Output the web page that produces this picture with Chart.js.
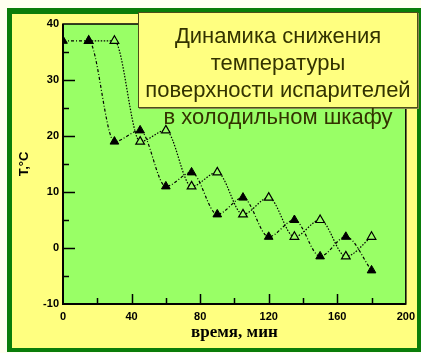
<!DOCTYPE html>
<html>
<head>
<meta charset="utf-8">
<script src="https://cdn.jsdelivr.net/npm/chart.js@4"></script>
<style>
  html, body { margin: 0; padding: 0; background: #fffff0; overflow: hidden; }
  #wrap { position: relative; width: 421px; height: 353px; overflow: hidden; }
  #title-box {
    position: absolute; left: 138px; top: 12px; width: 278px; height: 85px;
    background: #ffff80; border: 1px solid #4d4d1a;
    box-shadow: 1px 1px 0 #8a8a50;
    font-family: "Liberation Sans", Arial, sans-serif; font-size: 22px;
    line-height: 27px; color: #333300; text-align: center;
    padding-top: 9px; box-sizing: content-box; white-space: nowrap;
  }
  #title-last {
    position: absolute; left: 138px; top: 103px; width: 280px;
    font-family: "Liberation Sans", Arial, sans-serif; font-size: 22px;
    line-height: 27px; color: #333300; text-align: center; white-space: nowrap;
  }
</style>
</head>
<body>
<div id="wrap">
  <canvas id="chart" width="421" height="353"></canvas>
  <div id="title-box">Динамика снижения<br>температуры<br>поверхности испарителей</div>
  <div id="title-last">в холодильном шкафу</div>
</div>
<script>
// filled triangles
const timeA = [0, 15, 30, 45, 60, 75, 90, 105, 120, 135, 150, 165, 180];
const tempA = [37, 37, 19, 21, 11, 13.5, 6, 9, 2, 5, -1.5, 2, -4];
// open triangles
const timeB = [15, 30, 45, 60, 75, 90, 105, 120, 135, 150, 165, 180];
const tempB = [37, 37, 19, 21, 11, 13.5, 6, 9, 2, 5, -1.5, 2];

const xTicks = [0, 40, 80, 120, 160, 200];
const yTicks = [-10, 0, 10, 20, 30, 40];

const toPoints = (xs, ys) => xs.map((x, i) => ({ x: x, y: ys[i] }));

// frame, yellow panel and green plot area
const backgroundPlugin = {
  id: 'background',
  beforeDraw(chart) {
    const ctx = chart.ctx;
    const area = chart.chartArea;
    ctx.save();
    ctx.fillStyle = '#fffff0';
    ctx.fillRect(0, 0, chart.width, chart.height);
    ctx.fillStyle = '#0a7d0a';
    ctx.fillRect(7, 8, 414, 344);
    ctx.fillStyle = '#ffff80';
    ctx.fillRect(12, 14, 405, 334);
    ctx.fillStyle = '#99ff66';
    ctx.fillRect(area.left, area.top, area.right - area.left, area.bottom - area.top);
    ctx.restore();
  },
};

// inward ticks and box border
const ticksPlugin = {
  id: 'inwardTicks',
  afterDatasetsDraw(chart) {
    const ctx = chart.ctx;
    const area = chart.chartArea;
    const xs = chart.scales.x;
    const ys = chart.scales.y;
    ctx.save();
    ctx.strokeStyle = '#000';
    ctx.lineWidth = 1.5;
    ctx.beginPath();
    for (let v = -5; v < 40; v += 5) {
      const py = Math.round(ys.getPixelForValue(v)) + 0.5;
      const len = v % 10 === 0 ? 12 : 6;
      ctx.moveTo(area.left, py);
      ctx.lineTo(area.left + len, py);
    }
    for (let v = 20; v < 200; v += 20) {
      const px = Math.round(xs.getPixelForValue(v)) + 0.5;
      const len = v % 40 === 0 ? 10 : 6;
      ctx.moveTo(px, area.bottom);
      ctx.lineTo(px, area.bottom - len);
    }
    ctx.stroke();
    ctx.lineWidth = 1.5;
    ctx.strokeRect(area.left, area.top, area.right - area.left, area.bottom - area.top);
    ctx.lineWidth = 2;
    ctx.beginPath();
    ctx.moveTo(area.left, area.top);
    ctx.lineTo(area.left, area.bottom);
    ctx.lineTo(area.right, area.bottom);
    ctx.stroke();
    ctx.restore();
  },
};

const tickFont = { family: '"Liberation Sans", Arial, sans-serif', size: 11, weight: 'bold' };

new Chart(document.getElementById('chart').getContext('2d'), {
  type: 'line',
  data: {
    datasets: [
      {
        label: 'A',
        data: toPoints(timeA, tempA),
        borderColor: '#000',
        borderWidth: 1.2,
        borderDash: [3, 2, 1, 2],
        cubicInterpolationMode: 'monotone',
        pointStyle: 'triangle',
        pointRadius: 5,
        pointBackgroundColor: '#000',
        pointBorderColor: '#000',
        pointBorderWidth: 1,
        fill: false,
      },
      {
        label: 'B',
        data: toPoints(timeB, tempB),
        borderColor: '#000',
        borderWidth: 1.2,
        borderDash: [1.5, 1.5],
        cubicInterpolationMode: 'monotone',
        pointStyle: 'triangle',
        pointRadius: 5,
        pointBackgroundColor: '#99ff66',
        pointBorderColor: '#000',
        pointBorderWidth: 1.2,
        fill: false,
      },
    ],
  },
  options: {
    responsive: false,
    animation: false,
    layout: { padding: { left: 10, right: 14, top: 24, bottom: 0 } },
    plugins: {
      legend: { display: false },
      tooltip: { enabled: false },
    },
    scales: {
      x: {
        type: 'linear',
        min: 0,
        max: 200,
        afterBuildTicks: (scale) => { scale.ticks = xTicks.map((v) => ({ value: v })); },
        afterFit: (scale) => { scale.height = 49; },
        grid: { display: false, drawTicks: false, tickLength: 0 },
        border: { display: false },
        ticks: { color: '#000', font: tickFont, padding: 6, maxRotation: 0 },
        title: {
          display: true,
          text: 'время, мин',
          color: '#000',
          font: { family: '"Liberation Serif", "Times New Roman", serif', size: 17, weight: 'bold' },
          padding: { top: 0, bottom: 10 },
        },
      },
      y: {
        type: 'linear',
        min: -10,
        max: 40,
        afterBuildTicks: (scale) => { scale.ticks = yTicks.map((v) => ({ value: v })); },
        afterFit: (scale) => { scale.width = 53; },
        grid: { display: false, drawTicks: false, tickLength: 0 },
        border: { display: false },
        ticks: { color: '#000', font: tickFont, padding: 4 },
        title: {
          display: true,
          text: 'T,°C',
          color: '#000',
          font: { family: '"Liberation Sans", Arial, sans-serif', size: 13, weight: 'bold' },
          padding: { top: 7, bottom: 0 },
        },
      },
    },
  },
  plugins: [backgroundPlugin, ticksPlugin],
});
</script>
</body>
</html>
